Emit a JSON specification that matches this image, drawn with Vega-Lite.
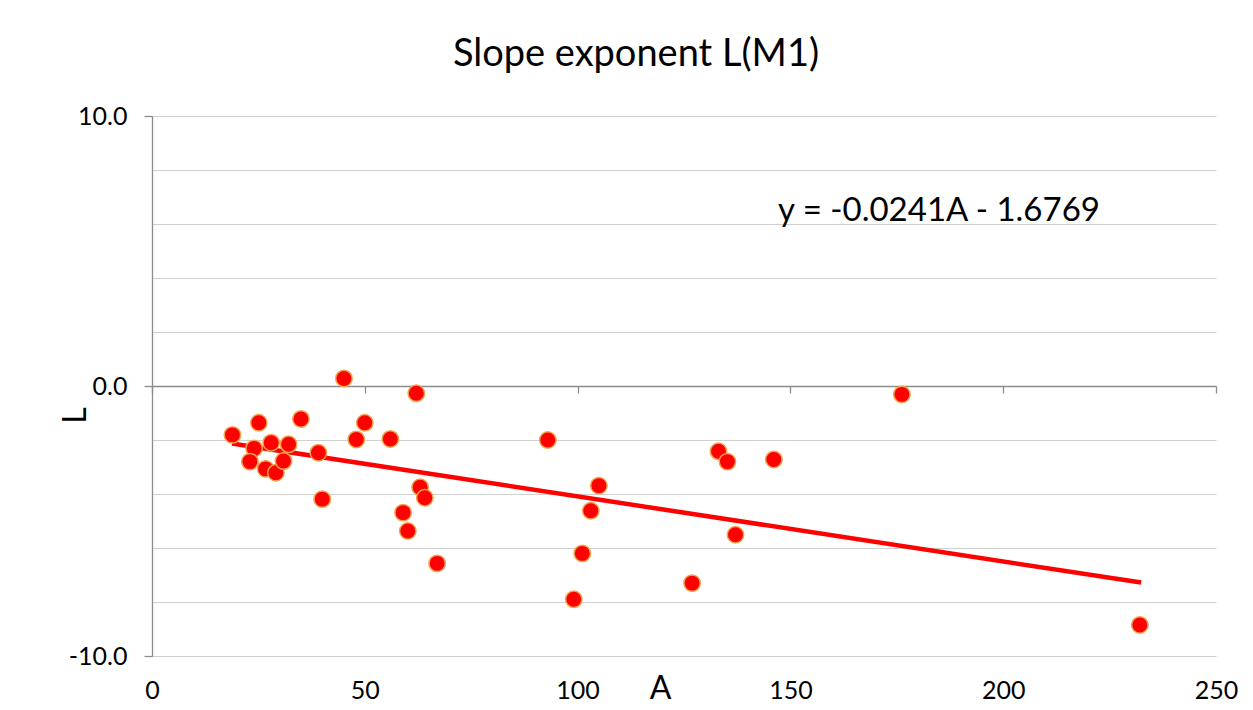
{
  "$schema": "https://vega.github.io/schema/vega-lite/v6.json",
  "width": 1064,
  "height": 540,
  "autosize": {"type": "none"},
  "padding": {"left": 152, "top": 116, "right": 37, "bottom": 54},
  "background": "white",
  "config": {"view": {"stroke": null}, "font": "Lato"},
  "title": {"text": "Slope exponent L(M1)", "fontSize": 38, "fontWeight": "normal", "color": "#000000", "offset": 30, "anchor": "middle", "dx": -48},
  "datasets": {
    "points": [
      {"A": 18.9, "L": -1.81}, {"A": 25.1, "L": -1.36}, {"A": 24.0, "L": -2.31}, {"A": 23.0, "L": -2.80},
      {"A": 28.0, "L": -2.10}, {"A": 26.7, "L": -3.07}, {"A": 29.1, "L": -3.21}, {"A": 30.9, "L": -2.78},
      {"A": 32.1, "L": -2.16}, {"A": 35.0, "L": -1.22}, {"A": 39.1, "L": -2.47}, {"A": 40.0, "L": -4.19},
      {"A": 45.1, "L": 0.28}, {"A": 48.0, "L": -1.98}, {"A": 50.0, "L": -1.36}, {"A": 56.0, "L": -1.96},
      {"A": 62.1, "L": -0.27}, {"A": 63.0, "L": -3.75}, {"A": 64.1, "L": -4.14}, {"A": 59.0, "L": -4.69},
      {"A": 60.1, "L": -5.37}, {"A": 67.0, "L": -6.57}, {"A": 93.0, "L": -2.0}, {"A": 99.1, "L": -7.90},
      {"A": 101.1, "L": -6.20}, {"A": 103.1, "L": -4.62}, {"A": 105.0, "L": -3.69}, {"A": 126.9, "L": -7.30},
      {"A": 133.1, "L": -2.42}, {"A": 135.2, "L": -2.80}, {"A": 137.1, "L": -5.51}, {"A": 146.1, "L": -2.72},
      {"A": 176.2, "L": -0.31}, {"A": 232.1, "L": -8.85}
    ],
    "trend": [
      {"A": 18.8, "L": -2.13},
      {"A": 232.4, "L": -7.28}
    ],
    "eq": [
      {"A": 147.1, "L": 6.48, "label": "y = -0.0241A - 1.6769"}
    ]
  },
  "layer": [
    {
      "data": {"name": "trend"},
      "mark": {"type": "line", "color": "#ff0000", "strokeWidth": 4.5},
      "encoding": {
        "x": {"field": "A", "type": "quantitative", "scale": {"domain": [0, 250], "nice": false, "zero": false},
          "axis": {"orient": "bottom", "offset": -270, "values": [0, 50, 100, 150, 200, 250], "labels": false, "grid": false,
            "domain": true, "domainColor": "#8c8c8c", "domainWidth": 1.3,
            "ticks": true, "tickSize": 7, "tickColor": "#8c8c8c", "tickWidth": 1.3, "title": null}},
        "y": {"field": "L", "type": "quantitative", "scale": {"domain": [-10, 10], "nice": false, "zero": false},
          "axis": {"orient": "left", "values": [-10, -8, -6, -4, -2, 0, 2, 4, 6, 8, 10], "labels": false, "ticks": false, "domain": false,
            "grid": true, "gridColor": "#d0d0d0", "gridWidth": 1.2, "title": null}}
      }
    },
    {
      "data": {"name": "points"},
      "mark": {"type": "point", "shape": "circle", "filled": true, "fill": "#ff0000", "stroke": "#f2a34e", "strokeWidth": 1.5, "size": 270, "opacity": 1},
      "encoding": {
        "x": {"field": "A", "type": "quantitative",
          "axis": {"orient": "bottom", "values": [0, 50, 100, 150, 200, 250], "domain": false, "ticks": false, "grid": false,
            "labelFontSize": 25, "labelColor": "#000000", "labelPadding": 22, "labelFlush": false,
            "title": "A", "titleFontSize": 32, "titleFontWeight": "normal", "titleColor": "#000000",
            "titleX": 508, "titleY": 32, "titleAlign": "center", "titleBaseline": "middle"}},
        "y": {"field": "L", "type": "quantitative",
          "axis": {"orient": "left", "values": [-10, 0, 10], "labelExpr": "replace(format(datum.value, '.1f'), '\u2212', '-')", "grid": false,
            "domain": true, "domainColor": "#8c8c8c", "domainWidth": 1.3,
            "ticks": true, "tickSize": 8, "tickColor": "#8c8c8c", "tickWidth": 1.3,
            "labelFontSize": 25, "labelColor": "#000000", "labelPadding": 17, "labelFlush": false,
            "title": "L", "titleFontSize": 32, "titleFontWeight": "normal", "titleColor": "#000000",
            "titleX": -77, "titleY": 299, "titleAlign": "center", "titleBaseline": "middle", "titleAngle": -90}}
      }
    },
    {
      "data": {"name": "eq"},
      "mark": {"type": "text", "align": "left", "baseline": "middle", "fontSize": 33, "color": "#000000"},
      "encoding": {
        "x": {"field": "A", "type": "quantitative", "axis": null},
        "y": {"field": "L", "type": "quantitative", "axis": null},
        "text": {"field": "label"}
      }
    }
  ],
  "resolve": {"axis": {"x": "independent", "y": "independent"}}
}
